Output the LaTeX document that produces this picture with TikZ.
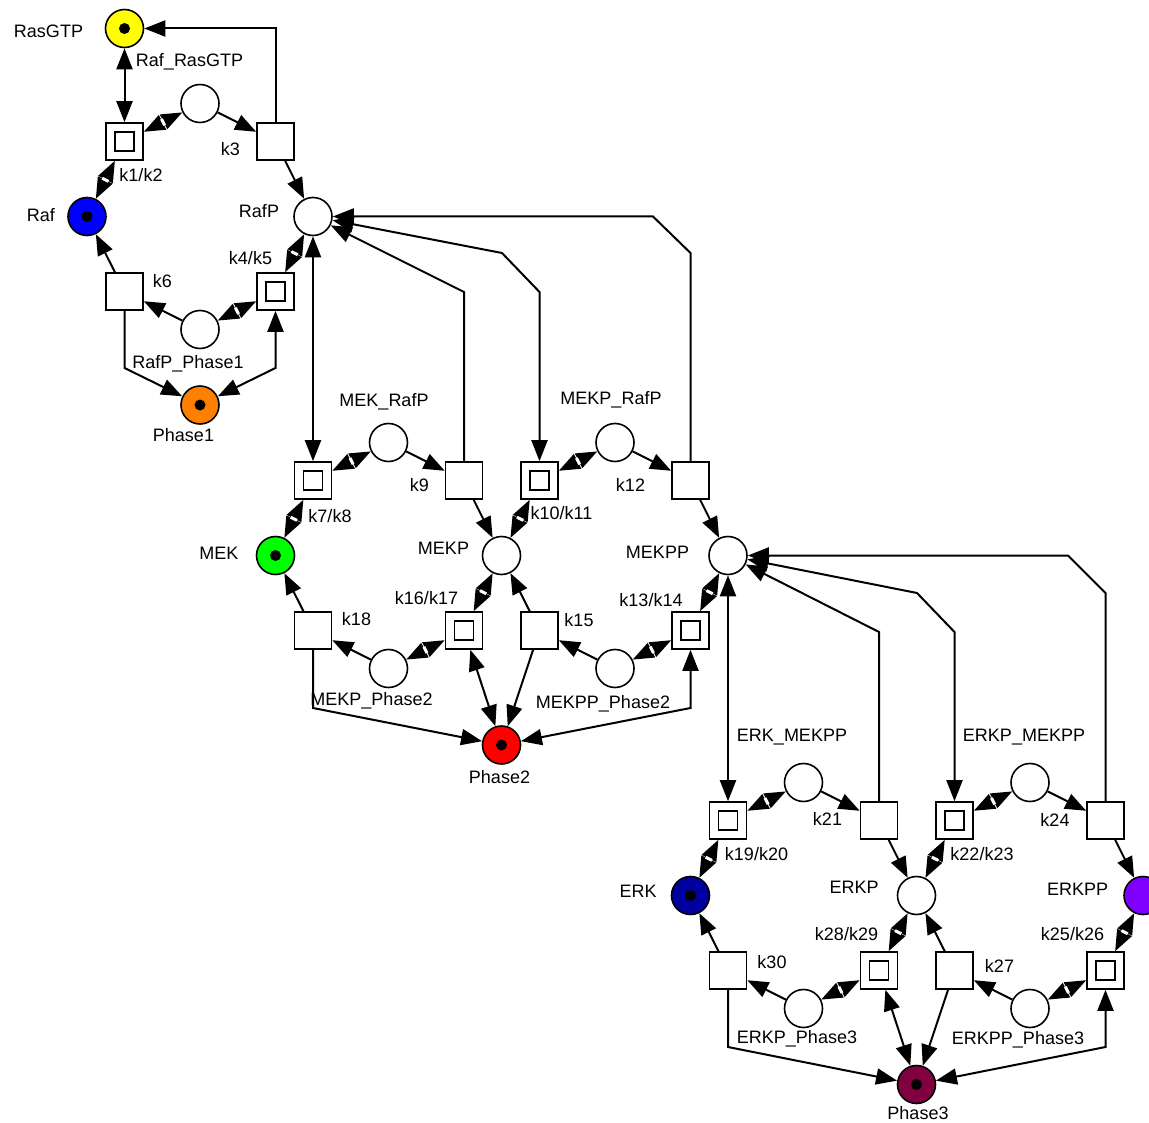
\documentclass[tikz,border=0pt]{standalone}
\usepackage{fontspec}
\setmainfont{Liberation Sans}
\usetikzlibrary{arrows.meta,decorations.markings}
\definecolor{ptYellow}{RGB}{255,255,0}
\definecolor{ptBlue}{RGB}{0,0,255}
\definecolor{ptOrange}{RGB}{255,128,0}
\definecolor{ptGreen}{RGB}{0,255,0}
\definecolor{ptRed}{RGB}{255,0,0}
\definecolor{ptNavy}{RGB}{0,0,160}
\definecolor{ptPurple}{RGB}{128,0,255}
\definecolor{ptMaroon}{RGB}{128,0,64}
\begin{document}
\begin{tikzpicture}[x=1pt,y=-1pt,
  font=\fontsize{18}{20}\selectfont,
  place/.style={circle, draw, line width=1.6pt, minimum size=38pt, inner sep=0pt, fill=white},
  token/.style={place, fill=#1, path picture={\fill[black] (path picture bounding box.center) circle (5.5pt);}},
  trans/.style={rectangle, draw, line width=1.6pt, minimum size=37pt, inner sep=0pt, fill=white},
  dtrans/.style={trans, path picture={\draw[line width=1.6pt]
      ([shift={(-9.5pt,-9.5pt)}]path picture bounding box.center) rectangle
      ([shift={(9.5pt,9.5pt)}]path picture bounding box.center);}},
  tip/.tip={Triangle[length=21pt 0,width=16pt 0]},
  arc/.style={line width=2pt, -tip},
  biarc/.style={line width=2pt, tip-tip},
  dblarc/.style={biarc, postaction={decorate}, decoration={markings,
      mark=at position 0.5 with {\fill[white] (-1.5pt,-3.5pt) rectangle (1.5pt,3.5pt);}}},
  lbl/.style={anchor=base, inner sep=0pt, yshift=-6.5pt}
]
\clip (0,0) rectangle (1149,1123);
\fill[white] (0,0) rectangle (1149,1123);

% ---------- Raf cycle ----------
\node[token=ptYellow] (RasGTP) at (124.5,28.5) {};
\node[token=ptBlue]   (Raf)    at (87,216.5) {};
\node[place]          (RafP)   at (313,216.5) {};
\node[place]          (RafRasGTP) at (200,103.5) {};
\node[place]          (RafPPh1)   at (200,329.5) {};
\node[dtrans] (k1k2) at (124.5,141.5) {};
\node[trans]  (k3)   at (275.5,141.5) {};
\node[trans]  (k6)   at (124.5,291.5) {};
\node[dtrans] (k4k5) at (275.5,291.5) {};
\node[token=ptOrange] (Phase1) at (200,405) {};

% ---------- MEK -> MEKP cycle ----------
\node[token=ptGreen] (MEK)  at (275.5,555.5) {};
\node[place]         (MEKP) at (501.5,555.5) {};
\node[place] (MEKRafP)  at (388.5,442.5) {};
\node[place] (MEKPPh2)  at (388.5,668.5) {};
\node[dtrans] (k7k8)   at (313,480.5) {};
\node[trans]  (k9)     at (464,480.5) {};
\node[trans]  (k18)    at (313,630.5) {};
\node[dtrans] (k16k17) at (464,630.5) {};

% ---------- MEKP -> MEKPP cycle ----------
\node[place] (MEKPP)     at (728,555.5) {};
\node[place] (MEKPRafP)  at (615,442.5) {};
\node[place] (MEKPPPh2)  at (615,668.5) {};
\node[dtrans] (k10k11) at (539.5,480.5) {};
\node[trans]  (k12)    at (690.5,480.5) {};
\node[trans]  (k15)    at (539.5,630.5) {};
\node[dtrans] (k13k14) at (690.5,630.5) {};
\node[token=ptRed] (Phase2) at (501.5,745) {};

% ---------- ERK -> ERKP cycle ----------
\node[token=ptNavy] (ERK)  at (690.5,895.5) {};
\node[place]        (ERKP) at (916.5,895.5) {};
\node[place] (ERKMEKPP) at (803.5,782.5) {};
\node[place] (ERKPPh3)  at (803.5,1008.5) {};
\node[dtrans] (k19k20) at (728,820.5) {};
\node[trans]  (k21)    at (879,820.5) {};
\node[trans]  (k30)    at (728,970.5) {};
\node[dtrans] (k28k29) at (879,970.5) {};

% ---------- ERKP -> ERKPP cycle ----------
\node[place, fill=ptPurple] (ERKPP) at (1143,895.5) {};
\node[place] (ERKPMEKPP) at (1030,782.5) {};
\node[place] (ERKPPPh3)  at (1030,1008.5) {};
\node[dtrans] (k22k23) at (954.5,820.5) {};
\node[trans]  (k24)    at (1105.5,820.5) {};
\node[trans]  (k27)    at (954.5,970.5) {};
\node[dtrans] (k25k26) at (1105.5,970.5) {};
\node[token=ptMaroon] (Phase3) at (916.5,1084.5) {};

% ---------- arcs: Raf cycle ----------
\draw[biarc] (RasGTP) -- (k1k2);
\draw[arc] (k3.north) -- (275.5,28.5) -- (RasGTP);
\draw[dblarc] (RafRasGTP) -- (k1k2);
\draw[arc] (RafRasGTP) -- (k3);
\draw[arc] (k3) -- (RafP);
\draw[dblarc] (k1k2) -- (Raf);
\draw[arc] (k6) -- (Raf);
\draw[dblarc] (RafP) -- (k4k5);
\draw[dblarc] (RafPPh1) -- (k4k5);
\draw[arc] (RafPPh1) -- (k6);
\draw[arc] (k6.south) -- (124.5,368) -- (Phase1);
\draw[biarc] (k4k5.south) -- (275.5,368) -- (Phase1);

% ---------- arcs: RafP as enzyme ----------
\draw[biarc] (RafP) -- (k7k8);
\draw[arc] (k9.north) -- (464,292) -- (RafP);
\draw[biarc] (RafP) -- (502,253) -- (539.5,292) -- (k10k11.north);
\draw[arc] (k12.north) -- (690.5,253) -- (653,216.5) -- (RafP);

% ---------- arcs: MEK cycles ----------
\draw[dblarc] (MEKRafP) -- (k7k8);
\draw[arc] (MEKRafP) -- (k9);
\draw[arc] (k9) -- (MEKP);
\draw[dblarc] (k7k8) -- (MEK);
\draw[arc] (k18) -- (MEK);
\draw[dblarc] (MEKP) -- (k16k17);
\draw[dblarc] (MEKPPh2) -- (k16k17);
\draw[arc] (MEKPPh2) -- (k18);

\draw[dblarc] (MEKPRafP) -- (k10k11);
\draw[arc] (MEKPRafP) -- (k12);
\draw[arc] (k12) -- (MEKPP);
\draw[dblarc] (k10k11) -- (MEKP);
\draw[arc] (k15) -- (MEKP);
\draw[dblarc] (MEKPP) -- (k13k14);
\draw[dblarc] (MEKPPPh2) -- (k13k14);
\draw[arc] (MEKPPPh2) -- (k15);

\draw[arc] (k18.south) -- (313,708) -- (Phase2);
\draw[biarc] (k16k17) -- (Phase2);
\draw[arc] (k15) -- (Phase2);
\draw[biarc] (k13k14.south) -- (690.5,708) -- (Phase2);

% ---------- arcs: MEKPP as enzyme ----------
\draw[biarc] (MEKPP) -- (k19k20);
\draw[arc] (k21.north) -- (879,632) -- (MEKPP);
\draw[biarc] (MEKPP) -- (917,593) -- (954.5,632) -- (k22k23.north);
\draw[arc] (k24.north) -- (1105.5,593) -- (1068,555.5) -- (MEKPP);

% ---------- arcs: ERK cycles ----------
\draw[dblarc] (ERKMEKPP) -- (k19k20);
\draw[arc] (ERKMEKPP) -- (k21);
\draw[arc] (k21) -- (ERKP);
\draw[dblarc] (k19k20) -- (ERK);
\draw[arc] (k30) -- (ERK);
\draw[dblarc] (ERKP) -- (k28k29);
\draw[dblarc] (ERKPPh3) -- (k28k29);
\draw[arc] (ERKPPh3) -- (k30);

\draw[dblarc] (ERKPMEKPP) -- (k22k23);
\draw[arc] (ERKPMEKPP) -- (k24);
\draw[arc] (k24) -- (ERKPP);
\draw[dblarc] (k22k23) -- (ERKP);
\draw[arc] (k27) -- (ERKP);
\draw[dblarc] (ERKPP) -- (k25k26);
\draw[dblarc] (ERKPPPh3) -- (k25k26);
\draw[arc] (ERKPPPh3) -- (k27);

\draw[arc] (k30.south) -- (728,1047) -- (Phase3);
\draw[biarc] (k28k29) -- (Phase3);
\draw[arc] (k27) -- (Phase3);
\draw[biarc] (k25k26.south) -- (1105.5,1047) -- (Phase3);

% ---------- labels ----------
\node[lbl] (tRasGTP) at (48.5,31) {RasGTP};
\node[lbl] (tRafRasGTP) at (189.5,60) {Raf\_RasGTP};
\node[lbl] (tk3) at (230.5,149) {k3};
\node[lbl] (tk1k2) at (141,175) {k1/k2};
\node[lbl] (tRaf) at (41,215) {Raf};
\node[lbl] (tRafP) at (259,211) {RafP};
\node[lbl] (tk4k5) at (250.5,258) {k4/k5};
\node[lbl] (tk6) at (162.5,281) {k6};
\node[lbl] (tRafPPh1) at (188,362) {RafP\_Phase1};
\node[lbl] (tPhase1) at (183.5,435) {Phase1};

\node[lbl] (tMEK) at (219,553) {MEK};
\node[lbl] (tMEKRafP) at (384,400) {MEK\_RafP};
\node[lbl] (tk9) at (419.5,485) {k9};
\node[lbl] (tk7k8) at (330,516) {k7/k8};
\node[lbl] (tMEKP) at (443.5,548) {MEKP};
\node[lbl] (tk16k17) at (426.5,598) {k16/k17};
\node[lbl] (tk18) at (356.5,619) {k18};
\node[lbl] (tMEKPPh2) at (371.5,699) {MEKP\_Phase2};
\node[lbl] (tPhase2) at (499.5,777) {Phase2};

\node[lbl] (tMEKPRafP) at (611,398) {MEKP\_RafP};
\node[lbl] (tk12) at (630.5,485) {k12};
\node[lbl] (tk10k11) at (561.5,513) {k10/k11};
\node[lbl] (tMEKPP) at (657.5,552) {MEKPP};
\node[lbl] (tk13k14) at (651,600) {k13/k14};
\node[lbl] (tk15) at (579,620) {k15};
\node[lbl] (tMEKPPPh2) at (603,702) {MEKPP\_Phase2};

\node[lbl] (tERKMEKPP) at (792,735) {ERK\_MEKPP};
\node[lbl] (tk21) at (827.5,819) {k21};
\node[lbl] (tk19k20) at (756.5,854) {k19/k20};
\node[lbl] (tERK) at (638,891) {ERK};
\node[lbl] (tERKP) at (854,887) {ERKP};
\node[lbl] (tk28k29) at (846.5,934) {k28/k29};
\node[lbl] (tk30) at (772,962) {k30};
\node[lbl] (tERKPPh3) at (797,1037) {ERKP\_Phase3};
\node[lbl] (tPhase3) at (918,1113) {Phase3};

\node[lbl] (tERKPMEKPP) at (1024,735) {ERKP\_MEKPP};
\node[lbl] (tk24) at (1055,820) {k24};
\node[lbl] (tk22k23) at (982,854) {k22/k23};
\node[lbl] (tERKPP) at (1077.5,889) {ERKPP};
\node[lbl] (tk25k26) at (1072.5,934) {k25/k26};
\node[lbl] (tk27) at (999.5,966) {k27};
\node[lbl] (tERKPPPh3) at (1018,1038) {ERKPP\_Phase3};
\end{tikzpicture}
\end{document}
